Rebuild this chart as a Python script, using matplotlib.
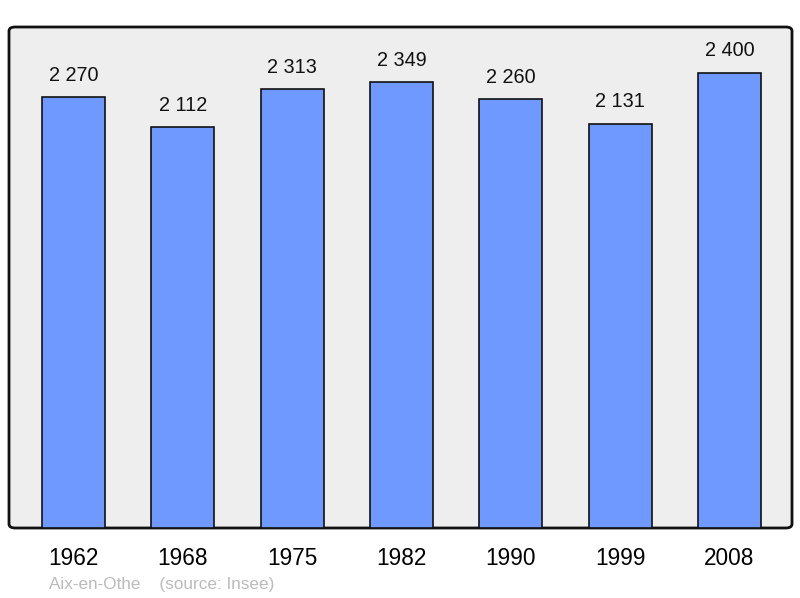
import matplotlib
matplotlib.use("Agg")
import matplotlib.pyplot as plt
from matplotlib.patches import FancyBboxPatch

years = ["1962", "1968", "1975", "1982", "1990", "1999", "2008"]
population = [2270, 2112, 2313, 2349, 2260, 2131, 2400]
value_labels = ["2 270", "2 112", "2 313", "2 349", "2 260", "2 131", "2 400"]

plt.rcParams['font.family'] = ['Liberation Sans', 'DejaVu Sans']

fig = plt.figure(figsize=(8, 5.98), dpi=100)
ax = fig.add_axes([9/800, 70/598, 783/800, 501/598])
ax.set_facecolor('none')

bg = FancyBboxPatch((0, 0), 1, 1, boxstyle="round,pad=0,rounding_size=0.008",
                    transform=ax.transAxes, facecolor='#eeeeee', edgecolor='#111111',
                    linewidth=2, zorder=0, clip_on=False)
ax.add_patch(bg)

x = list(range(len(years)))
ax.bar(x, population, width=0.576, color='#7099ff', edgecolor='#111111', linewidth=1.2, zorder=2)

for xi, v, lab in zip(x, population, value_labels):
    ax.annotate(lab, (xi, v), xytext=(0, 9), textcoords='offset points',
                ha='center', va='bottom', fontsize=14.3, color='#111111')

ax.set_xlim(-0.59, 6.572)
ax.set_ylim(0, 2640)
ax.set_yticks([])
ax.set_xticks(x)
ax.set_xticklabels(years, fontsize=16.3)
ax.tick_params(axis='x', length=0, pad=14)
for s in ax.spines.values():
    s.set_visible(False)

fig.text(49/800, 1 - 585/598, "Aix-en-Othe    (source: Insee)", fontsize=12.3,
         color='#bbbbbb', va='center', ha='left')

fig.savefig("out.png", dpi=100)
